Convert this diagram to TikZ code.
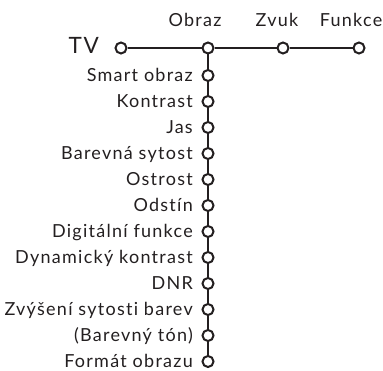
\documentclass[tikz,border=0pt]{standalone}
\usepackage{fontspec}
\setmainfont[LetterSpace=7, Ligatures=NoCommon]{Lato}
\definecolor{ink}{HTML}{231F20}
\begin{document}
\begin{tikzpicture}[x=1pt, y=-1pt,
    dot/.style={circle, draw=ink, fill=white, line width=2pt, inner sep=0pt, minimum size=11pt},
    item/.style={anchor=base east, inner sep=0pt, text=ink, font=\fontsize{18}{21}\selectfont},
    head/.style={anchor=base, inner sep=0pt, text=ink, font=\fontsize{18}{21}\selectfont},
    link/.style={draw=ink, line width=2.1pt}
]
    \useasboundingbox (0,0) rectangle (383,371);
    % top row
    \node[dot] (tv) at (121,48) {};
    \node[dot] (obraz) at (208,48) {};
    \node[dot] (zvuk) at (283,48) {};
    \node[dot] (funkce) at (359,48) {};
    \node[item, font=\fontsize{22.5}{25}\selectfont] (tvl) at (99,53.5) {TV};
    \node[head] (obrazl) at (195,27) {Obraz};
    \node[head] (zvukl) at (277,27) {Zvuk};
    \node[head] (funkcel) at (351,27) {Funkce};
    \draw[link] (tv) -- (obraz) -- (zvuk) -- (funkce);
    % picture menu
    \foreach \name [count=\i] in {Smart obraz, Kontrast, Jas, Barevná sytost, Ostrost, Odstín,
        Digitální funkce, Dynamický kontrast, DNR, Zvýšení sytosti barev, (Barevný tón), Formát obrazu} {
        \node[dot] (p\i) at (208,{49.5+26*\i}) {};
        \node[item] (l\i) at (193,{55.5+26*\i}) {\name};
    }
    \draw[link] (obraz) -- (p1);
    \foreach \i [remember=\i as \j (initially 1)] in {2,...,12}
        \draw[link] (p\j) -- (p\i);
\end{tikzpicture}
\end{document}
